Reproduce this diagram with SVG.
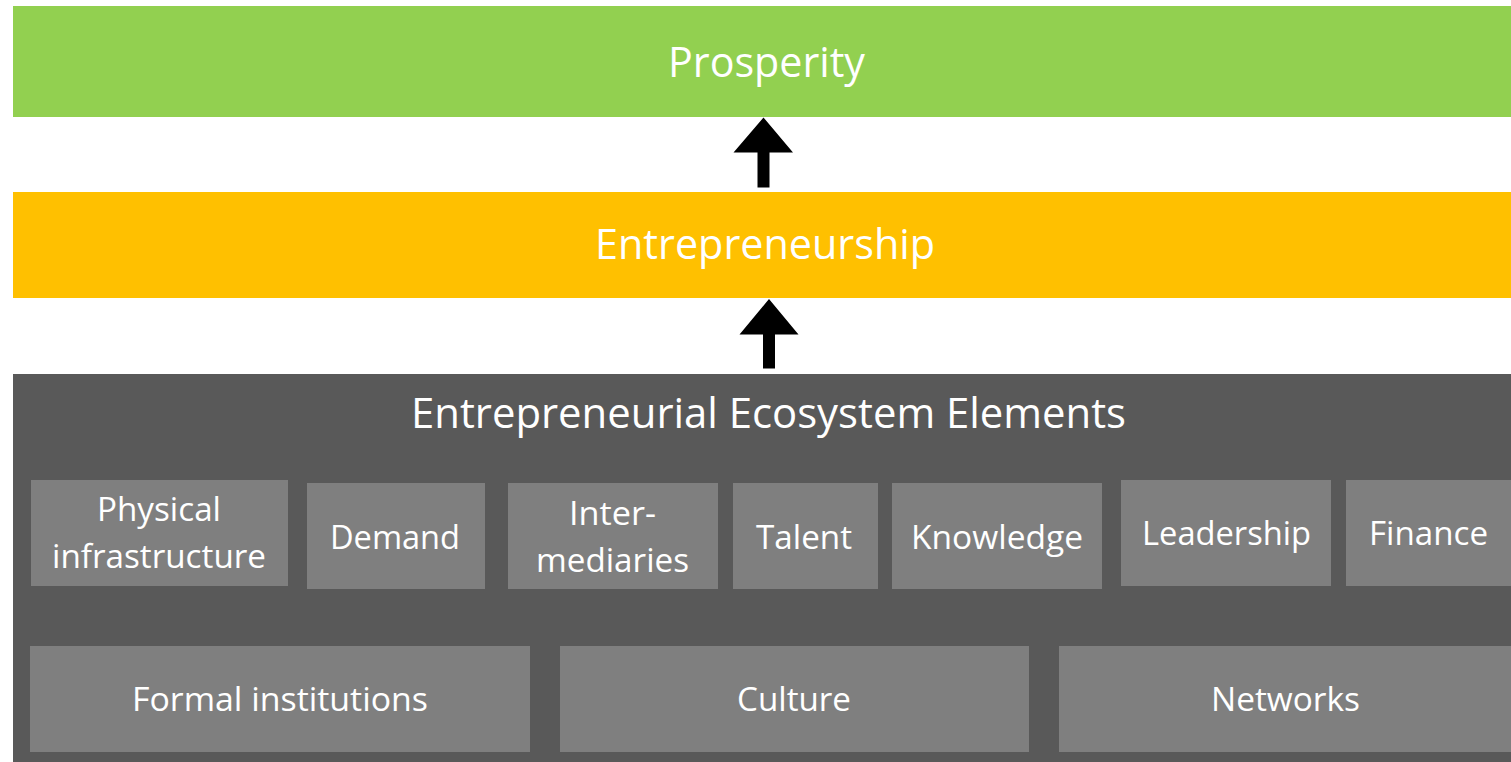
<svg xmlns="http://www.w3.org/2000/svg" width="1511" height="762" viewBox="0 0 1511 762">
<style>
.lbl{font-family:"Open Sans","Noto Sans","DejaVu Sans",sans-serif;fill:#FFFFFF;}
.big{font-size:42px;}
.sm{font-size:32px;}
.box{fill:#7F7F7F;}
.arrow{fill:#000000;}
</style>
<rect width="1511" height="762" fill="#FFFFFF"/>
<g id="prosperity">
<rect x="13" y="6" width="1498" height="111" fill="#92D050"/>
<text class="lbl big" x="668" y="77" textLength="197" lengthAdjust="spacingAndGlyphs">Prosperity</text>
</g>
<g id="entrepreneurship">
<rect x="13" y="192" width="1498" height="106" fill="#FFC000"/>
<text class="lbl big" x="595" y="258.5" textLength="340" lengthAdjust="spacingAndGlyphs">Entrepreneurship</text>
</g>
<g id="ecosystem">
<rect x="13" y="374" width="1498" height="388" fill="#595959"/>
<text class="lbl big" x="411" y="428" textLength="715" lengthAdjust="spacingAndGlyphs">Entrepreneurial Ecosystem Elements</text>
</g>
<g id="physical-infrastructure">
<rect class="box" x="31" y="480" width="257" height="106"/>
<text class="lbl sm" x="97" y="521" textLength="124" lengthAdjust="spacingAndGlyphs">Physical</text>
<text class="lbl sm" x="52" y="568" textLength="214" lengthAdjust="spacingAndGlyphs">infrastructure</text>
</g>
<g id="demand">
<rect class="box" x="307" y="483" width="178" height="106"/>
<text class="lbl sm" x="330" y="549" textLength="130" lengthAdjust="spacingAndGlyphs">Demand</text>
</g>
<g id="intermediaries">
<rect class="box" x="508" y="483" width="210" height="106"/>
<text class="lbl sm" x="569" y="525" textLength="87" lengthAdjust="spacingAndGlyphs">Inter-</text>
<text class="lbl sm" x="536" y="571.5" textLength="153" lengthAdjust="spacingAndGlyphs">mediaries</text>
</g>
<g id="talent">
<rect class="box" x="733" y="483" width="145" height="106"/>
<text class="lbl sm" x="756" y="548.5" textLength="96" lengthAdjust="spacingAndGlyphs">Talent</text>
</g>
<g id="knowledge">
<rect class="box" x="892" y="483" width="210" height="106"/>
<text class="lbl sm" x="911" y="548.5" textLength="172" lengthAdjust="spacingAndGlyphs">Knowledge</text>
</g>
<g id="leadership">
<rect class="box" x="1121" y="480" width="210" height="106"/>
<text class="lbl sm" x="1142" y="545" textLength="169" lengthAdjust="spacingAndGlyphs">Leadership</text>
</g>
<g id="finance">
<rect class="box" x="1346" y="480" width="165" height="106"/>
<text class="lbl sm" x="1369" y="545" textLength="119" lengthAdjust="spacingAndGlyphs">Finance</text>
</g>
<g id="formal-institutions">
<rect class="box" x="30" y="646" width="500" height="106"/>
<text class="lbl sm" x="132" y="711" textLength="296" lengthAdjust="spacingAndGlyphs">Formal institutions</text>
</g>
<g id="culture">
<rect class="box" x="560" y="646" width="469" height="106"/>
<text class="lbl sm" x="737" y="711" textLength="114" lengthAdjust="spacingAndGlyphs">Culture</text>
</g>
<g id="networks">
<rect class="box" x="1059" y="646" width="452" height="106"/>
<text class="lbl sm" x="1211" y="711" textLength="149" lengthAdjust="spacingAndGlyphs">Networks</text>
</g>
<g id="connectors">
<polygon class="arrow" points="763.5,117.5 793,152.5 769.5,152.5 769.5,187.5 757.5,187.5 757.5,152.5 733.5,152.5"/>
<polygon class="arrow" points="769,299 798.5,334.5 775,334.5 775,368.5 763,368.5 763,334.5 739.5,334.5"/>
</g>
</svg>
